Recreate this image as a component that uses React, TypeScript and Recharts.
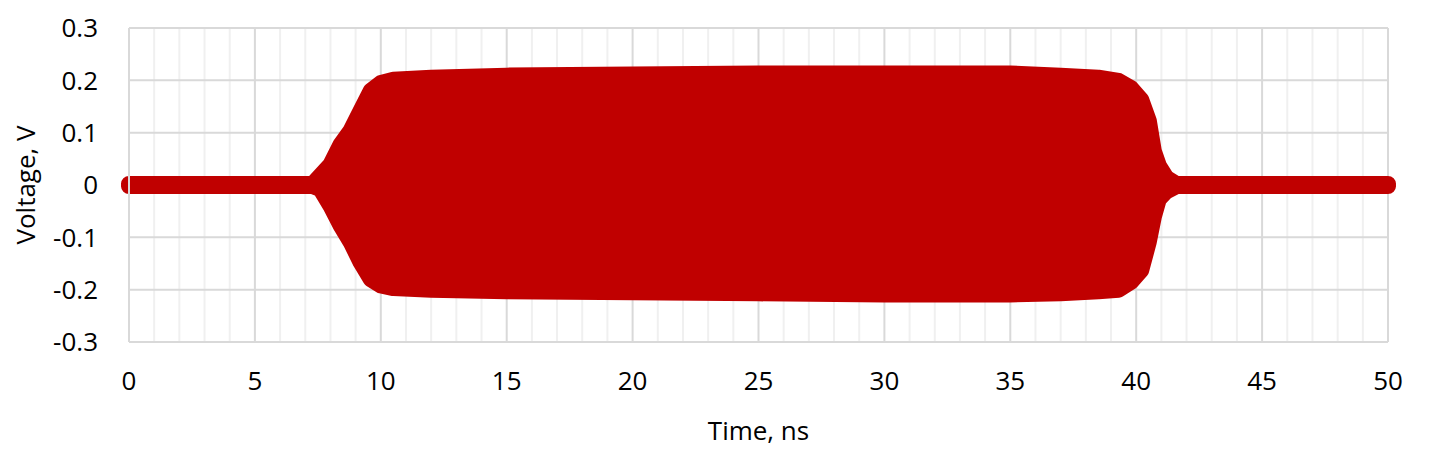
import { ComposedChart, Area, XAxis, YAxis, CartesianGrid } from 'recharts';

// envelope of the RF burst (dot centres)
const timeNs = [0, 7.3, 7.6, 8.0, 8.4, 8.8, 9.2, 9.6, 10.0, 10.5, 12, 15, 20, 25, 30, 35, 37, 38.5, 39.3, 39.8, 40.2, 40.5, 40.7, 40.9, 41.2, 41.6, 50];
const upperV = [0.002, 0.002, 0.018, 0.039, 0.077, 0.104, 0.142, 0.18, 0.195, 0.201, 0.205, 0.209, 0.211, 0.213, 0.213, 0.213, 0.209, 0.205, 0.199, 0.185, 0.163, 0.123, 0.065, 0.037, 0.014, 0.002, 0.002];
const lowerV = [-0.002, -0.002, -0.008, -0.04, -0.077, -0.109, -0.148, -0.18, -0.192, -0.197, -0.2, -0.203, -0.205, -0.207, -0.209, -0.209, -0.207, -0.203, -0.2, -0.185, -0.163, -0.109, -0.061, -0.027, -0.012, -0.002, -0.002];

const xMajorTicks = [0, 5, 10, 15, 20, 25, 30, 35, 40, 45, 50];
const xMinorTicks = [1, 2, 3, 4, 6, 7, 8, 9, 11, 12, 13, 14, 16, 17, 18, 19, 21, 22, 23, 24, 26, 27, 28, 29, 31, 32, 33, 34, 36, 37, 38, 39, 41, 42, 43, 44, 46, 47, 48, 49];
const yTicks = [-0.3, -0.2, -0.1, 0, 0.1, 0.2, 0.3];

const data = timeNs.map((t, i) => ({ t, range: [lowerV[i], upperV[i]] }));

const font = 'Open Sans';
const tickStyle = { fill: '#000', fontSize: 26, fontFamily: font };

export default function App() {
  return (
    <ComposedChart
      width={1413}
      height={446}
      data={data}
      margin={{ top: 20, right: 33, left: 0, bottom: 0 }}
      style={{ overflow: 'visible' }}
    >
      <XAxis xAxisId="minor" type="number" dataKey="t" domain={[0, 50]} ticks={xMinorTicks} hide />
      <CartesianGrid xAxisId="minor" horizontal={false} stroke="#f0f0f0" strokeWidth={2} />
      <CartesianGrid stroke="#d9d9d9" strokeWidth={2} />
      <XAxis
        type="number"
        dataKey="t"
        domain={[0, 50]}
        ticks={xMajorTicks}
        height={112}
        tickLine={false}
        tickSize={0}
        tickMargin={30}
        axisLine={{ stroke: '#d9d9d9', strokeWidth: 2 }}
        tick={tickStyle}
        label={{ value: 'Time, ns', position: 'insideBottom', offset: 14, fill: '#000', fontSize: 26, fontFamily: font }}
      />
      <YAxis
        type="number"
        domain={[-0.3, 0.3]}
        ticks={yTicks}
        width={121}
        tickLine={false}
        tickSize={0}
        tickMargin={31}
        axisLine={{ stroke: '#d9d9d9', strokeWidth: 2 }}
        tick={tickStyle}
        tickFormatter={(v) => String(v)}
        label={{
          value: 'Voltage, V',
          angle: -90,
          position: 'insideLeft',
          offset: 18,
          fill: '#000',
          fontSize: 26,
          fontFamily: font,
          style: { textAnchor: 'middle' },
        }}
      />
      <Area
        type="linear"
        dataKey="range"
        fill="#c00000"
        fillOpacity={1}
        stroke="#c00000"
        strokeWidth={16}
        strokeLinejoin="round"
        strokeLinecap="round"
        dot={false}
        activeDot={false}
        isAnimationActive={false}
      />
    </ComposedChart>
  );
}
